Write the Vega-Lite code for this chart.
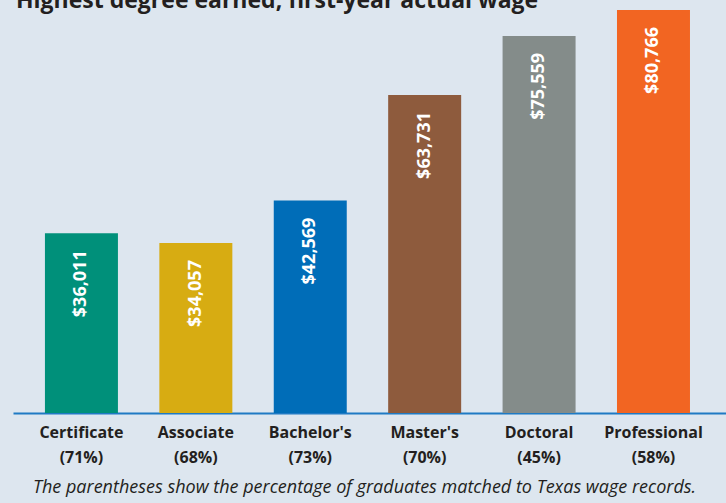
{
  "$schema": "https://vega.github.io/schema/vega-lite/v6.json",
  "width": 713,
  "height": 403,
  "autosize": {"type": "none"},
  "padding": {"left": 13, "top": 10, "right": 0, "bottom": 90},
  "background": "#dde6ef",
  "config": {"view": {"stroke": null}, "font": "Open Sans"},
  "title": {
    "text": "Highest degree earned, first-year actual wage",
    "anchor": "start",
    "frame": "group",
    "baseline": "alphabetic",
    "offset": 0,
    "dy": 21,
    "dx": 3,
    "fontSize": 23,
    "fontWeight": "bold",
    "color": "#231f20",
    "font": "Open Sans"
  },
  "data": {
    "values": [
      {"label": "Certificate (71%)", "wage": 36011},
      {"label": "Associate (68%)", "wage": 34057},
      {"label": "Bachelor's (73%)", "wage": 42569},
      {"label": "Master's (70%)", "wage": 63731},
      {"label": "Doctoral (45%)", "wage": 75559},
      {"label": "Professional (58%)", "wage": 80766}
    ]
  },
  "encoding": {
    "x": {
      "field": "label",
      "type": "nominal",
      "sort": null,
      "scale": {"paddingInner": 0.362, "paddingOuter": 0.297, "align": 0.47},
      "axis": {
        "title": "The parentheses show the percentage of graduates matched to Texas wage records.",
        "titleFont": "Open Sans",
        "titleFontStyle": "italic",
        "titleFontWeight": "normal",
        "titleFontSize": 18,
        "titleColor": "#231f20",
        "titleX": 351,
        "titleY": 79,
        "titleAlign": "center",
        "titleBaseline": "alphabetic",
        "labelExpr": "[split(datum.label, ' ')[0], split(datum.label, ' ')[1]]",
        "labelAngle": 0,
        "labelFont": "Open Sans",
        "labelFontWeight": "bold",
        "labelFontSize": 16,
        "labelColor": "#231f20",
        "labelLineHeight": 25,
        "labelPadding": 11,
        "ticks": false,
        "domainColor": "#1f7ac4",
        "domainWidth": 2
      }
    },
    "y": {
      "field": "wage",
      "type": "quantitative",
      "scale": {"domain": [0, 80766], "nice": false},
      "axis": null
    }
  },
  "layer": [
    {
      "mark": {"type": "bar"},
      "encoding": {
        "color": {
          "field": "label",
          "type": "nominal",
          "sort": null,
          "scale": {"range": ["#00907a", "#d7ac12", "#006db8", "#8e5b3d", "#848c8a", "#f26522"]},
          "legend": null
        }
      }
    },
    {
      "mark": {"type": "text", "angle": -90, "align": "right", "baseline": "middle", "dx": -17, "color": "white", "fontWeight": "bold", "fontSize": 18, "font": "Open Sans"},
      "encoding": {
        "text": {"field": "wage", "type": "quantitative", "format": "$,.0f"}
      }
    }
  ]
}
